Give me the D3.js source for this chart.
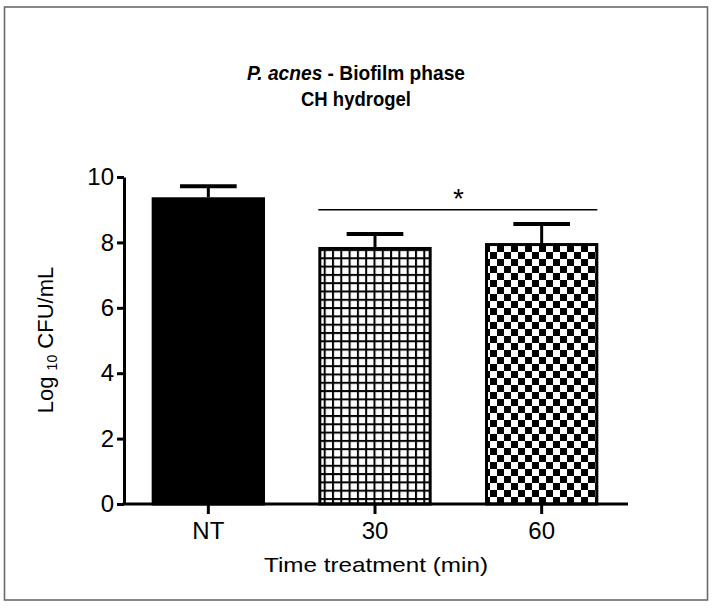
<!DOCTYPE html>
<html>
<head>
<meta charset="utf-8">
<script src="https://cdn.jsdelivr.net/npm/d3@7"></script>
<style>
  body { margin: 0; background: #fff; }
  text { font-family: "Liberation Sans", Arial, sans-serif; fill: #000; }
</style>
</head>
<body>
<svg width="713" height="608"></svg>
<script>
var categories = ["NT", "30", "60"],
    means = [9.38, 7.86, 7.98],
    errors = [0.34, 0.40, 0.58],
    fills = ["solid", "grid", "checker"],
    yTicks = [0, 2, 4, 6, 8, 10];

var svg = d3.select("svg");

// outer frame
svg.append("rect")
    .attr("x", 4.5).attr("y", 7).attr("width", 703).attr("height", 593)
    .attr("fill", "none").attr("stroke", "#6a6a6a").attr("stroke-width", 1.6);

var defs = svg.append("defs");

// square grid pattern
var grid = defs.append("pattern")
    .attr("id", "grid").attr("patternUnits", "userSpaceOnUse")
    .attr("width", 8.3).attr("height", 8.3);
grid.append("rect").attr("width", 8.3).attr("height", 8.3).attr("fill", "#fff");
grid.append("rect").attr("width", 2).attr("height", 8.3).attr("fill", "#000");
grid.append("rect").attr("width", 8.3).attr("height", 2).attr("fill", "#000");

// checkerboard pattern
var checker = defs.append("pattern")
    .attr("id", "checker").attr("patternUnits", "userSpaceOnUse")
    .attr("width", 14).attr("height", 14);
checker.append("rect").attr("width", 14).attr("height", 14).attr("fill", "#fff");
checker.append("rect").attr("width", 7).attr("height", 7).attr("fill", "#000");
checker.append("rect").attr("x", 7).attr("y", 7).attr("width", 7).attr("height", 7).attr("fill", "#000");

var x = d3.scaleBand()
    .domain(categories)
    .range([125, 625])
    .paddingInner(0.32)
    .paddingOuter(0.16);

var y = d3.scaleLinear()
    .domain([0, 10])
    .range([504, 177]);

function fillFor(i) {
    if (fills[i] === "grid") return "url(#grid)";
    if (fills[i] === "checker") return "url(#checker)";
    return "#000";
}

// bars
svg.append("g").selectAll("rect")
    .data(means)
    .enter().append("rect")
    .attr("x", function(d, i) { return x(categories[i]) + 1.5; })
    .attr("y", function(d) { return y(d) + 1.5; })
    .attr("width", x.bandwidth() - 3)
    .attr("height", function(d) { return y(0) - y(d) - 1.5; })
    .attr("fill", function(d, i) { return fillFor(i); })
    .attr("stroke", "#000")
    .attr("stroke-width", 3);

// error bars (upper only)
var eb = svg.append("g").selectAll("g")
    .data(means)
    .enter().append("g");
eb.append("line")
    .attr("x1", function(d, i) { return x(categories[i]) + x.bandwidth() / 2; })
    .attr("x2", function(d, i) { return x(categories[i]) + x.bandwidth() / 2; })
    .attr("y1", function(d) { return y(d); })
    .attr("y2", function(d, i) { return y(d + errors[i]); })
    .attr("stroke", "#000").attr("stroke-width", 3);
eb.append("line")
    .attr("x1", function(d, i) { return x(categories[i]) + x.bandwidth() / 4; })
    .attr("x2", function(d, i) { return x(categories[i]) + x.bandwidth() * 3 / 4; })
    .attr("y1", function(d, i) { return y(d + errors[i]); })
    .attr("y2", function(d, i) { return y(d + errors[i]); })
    .attr("stroke", "#000").attr("stroke-width", 4);

// y axis
var yAxis = svg.append("g")
    .attr("transform", "translate(124,0)")
    .call(d3.axisLeft(y).tickValues(yTicks).tickSize(7).tickSizeOuter(0).tickPadding(3));
yAxis.select(".domain").attr("stroke-width", 3);
yAxis.selectAll(".tick line").attr("stroke-width", 3);
yAxis.selectAll(".tick text")
    .style("font-size", "24px")
    .attr("font-family", "Liberation Sans, Arial, sans-serif");

// x axis
var xAxis = svg.append("g")
    .attr("transform", "translate(0," + y(0) + ")")
    .call(d3.axisBottom(x).tickSize(10).tickSizeOuter(0).tickPadding(8));
xAxis.select(".domain").attr("d", "M122.5,0H628").attr("stroke-width", 3);
xAxis.selectAll(".tick line").attr("stroke-width", 3);
xAxis.selectAll(".tick text")
    .style("font-size", "24px")
    .attr("font-family", "Liberation Sans, Arial, sans-serif");

// significance bracket
var sigY = y(9.0);
svg.append("line")
    .attr("x1", x("30")).attr("x2", x("60") + x.bandwidth() - 1)
    .attr("y1", sigY).attr("y2", sigY)
    .attr("stroke", "#000").attr("stroke-width", 1.5);
svg.append("text")
    .attr("x", (x("30") + x("60") + x.bandwidth()) / 2)
    .attr("y", sigY - 2)
    .attr("text-anchor", "middle")
    .style("font-size", "28px")
    .text("*");

// title
var title = svg.append("text")
    .attr("x", 356).attr("y", 80)
    .attr("text-anchor", "middle")
    .attr("textLength", 218).attr("lengthAdjust", "spacingAndGlyphs")
    .style("font-size", "20.5px").style("font-weight", "bold");
title.append("tspan").style("font-style", "italic").text("P. acnes");
title.append("tspan").text(" - Biofilm phase");
svg.append("text")
    .attr("x", 356).attr("y", 106)
    .attr("text-anchor", "middle")
    .attr("textLength", 110).attr("lengthAdjust", "spacingAndGlyphs")
    .style("font-size", "20.5px").style("font-weight", "bold")
    .text("CH hydrogel");

// y label
var yl = svg.append("text")
    .attr("transform", "translate(53,340) rotate(-90)")
    .attr("text-anchor", "middle")
    .style("font-size", "22px");
yl.append("tspan").text("Log ");
yl.append("tspan").style("font-size", "14px").attr("dy", 4).text("10");
yl.append("tspan").attr("dy", -4).text(" CFU/mL");

// x label
svg.append("text")
    .attr("x", 376).attr("y", 572)
    .attr("text-anchor", "middle")
    .attr("textLength", 224).attr("lengthAdjust", "spacingAndGlyphs")
    .style("font-size", "21px")
    .text("Time treatment (min)");
</script>
</body>
</html>
